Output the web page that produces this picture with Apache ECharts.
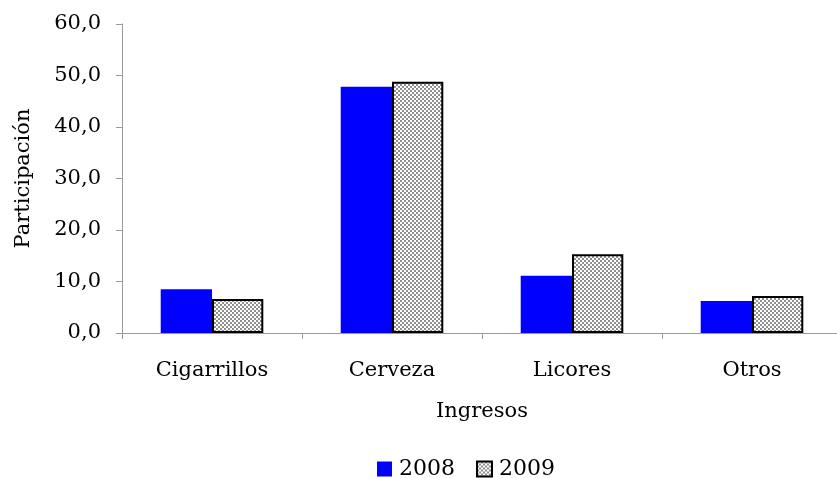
<!DOCTYPE html>
<html>
<head>
<meta charset="utf-8">
<script src="https://cdn.jsdelivr.net/npm/echarts@6/dist/echarts.min.js"></script>
<style>
  html, body { margin: 0; padding: 0; background: #fff; }
  #chart { width: 837px; height: 478px; }
</style>
</head>
<body>
<div id="chart"></div>
<script>
const categories = ['Cigarrillos', 'Cerveza', 'Licores', 'Otros'];
const values2008 = [8.5, 47.8, 11.1, 6.2];
const values2009 = [6.6, 48.8, 15.3, 7.2];
const seriesNames = ['2008', '2009'];

// small grey/white checkerboard like the 2009 fill
function checker() {
  const c = document.createElement('canvas');
  c.width = 4; c.height = 4;
  const ctx = c.getContext('2d');
  ctx.fillStyle = '#ffffff';
  ctx.fillRect(0, 0, 4, 4);
  ctx.fillStyle = '#8f8f8f';
  ctx.fillRect(0, 0, 2, 2);
  ctx.fillRect(2, 2, 2, 2);
  return c;
}
const pattern = { image: checker(), repeat: 'repeat' };

const font = '"DejaVu Serif", serif';
const fs = 21;
const axisGrey = '#9a9a9a';

const chart = echarts.init(document.getElementById('chart'), null, { renderer: 'canvas' });
chart.setOption({
  animation: false,
  backgroundColor: '#fff',
  textStyle: { fontFamily: font, color: '#000' },
  grid: { left: 122, right: -5, top: 24, bottom: 145, outerBoundsMode: 'none', containLabel: false },
  legend: {
    top: 458,
    left: 377,
    padding: 0,
    itemWidth: 15,
    itemHeight: 15,
    itemGap: 21,
    textStyle: { fontFamily: font, fontSize: 22, color: '#000', padding: [0, 0, 0, 2] },
    data: [
      { name: '2008', icon: 'rect', itemStyle: { color: '#0000ff', borderWidth: 0 } },
      { name: '2009', icon: 'rect', itemStyle: { color: pattern, borderColor: '#000', borderWidth: 2 } }
    ]
  },
  xAxis: {
    type: 'category',
    data: categories,
    name: 'Ingresos',
    nameLocation: 'middle',
    nameGap: 68,
    nameTextStyle: { fontFamily: font, fontSize: fs, color: '#000' },
    axisLine: { lineStyle: { color: axisGrey, width: 1 } },
    axisTick: { show: true, length: 6, lineStyle: { color: axisGrey } },
    axisLabel: { fontFamily: font, fontSize: fs, color: '#000', margin: 27 }
  },
  yAxis: {
    type: 'value',
    min: 0,
    max: 60,
    interval: 10,
    name: 'Participación',
    nameLocation: 'middle',
    nameGap: 88,
    nameRotate: 90,
    nameTextStyle: { fontFamily: font, fontSize: fs, color: '#000' },
    axisLine: { show: true, lineStyle: { color: axisGrey, width: 1 } },
    axisTick: { show: true, length: 6, lineStyle: { color: axisGrey } },
    splitLine: { show: false },
    axisLabel: {
      fontFamily: font, fontSize: fs, color: '#000', margin: 21,
      formatter: v => v.toFixed(1).replace('.', ',')
    }
  },
  series: [
    {
      name: seriesNames[0],
      type: 'bar',
      data: values2008,
      barGap: '0%',
      barCategoryGap: '43%',
      itemStyle: { color: '#0000ff' }
    },
    {
      name: seriesNames[1],
      type: 'bar',
      data: values2009,
      barGap: '0%',
      barCategoryGap: '43%',
      itemStyle: { color: pattern, borderColor: '#000', borderWidth: 2 }
    }
  ]
});
</script>
</body>
</html>
